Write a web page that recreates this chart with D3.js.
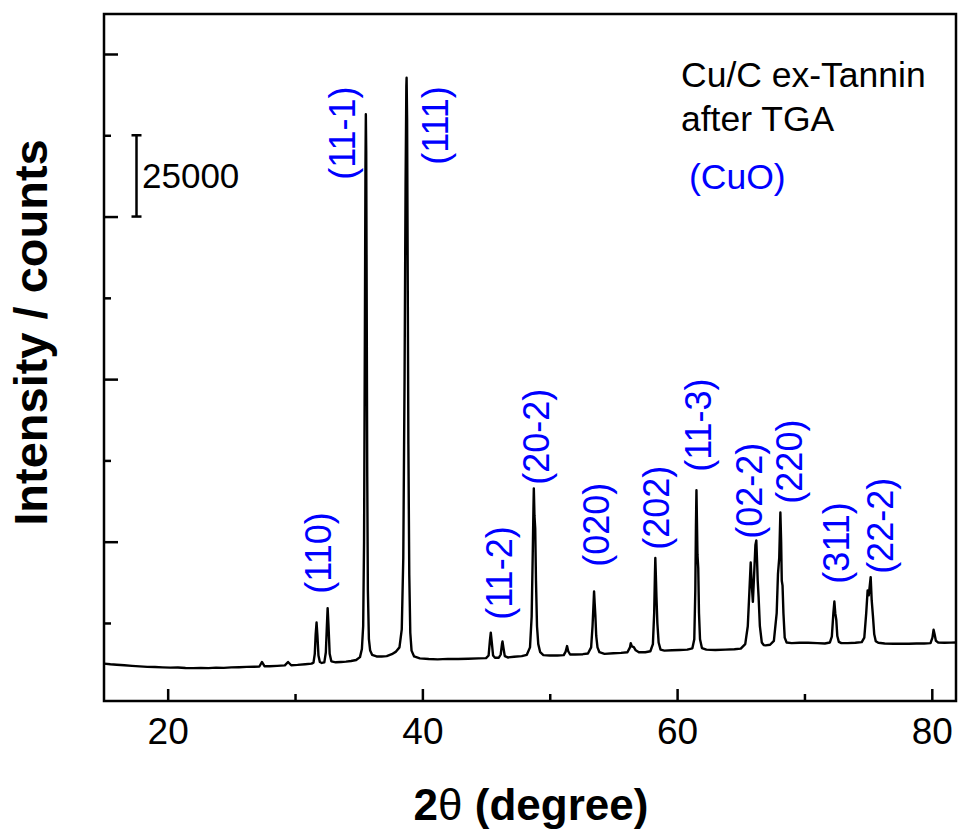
<!DOCTYPE html>
<html>
<head>
<meta charset="utf-8">
<script src="https://cdn.jsdelivr.net/npm/d3@7"></script>
<style>
  html, body { margin: 0; padding: 0; background: #fff; }
  svg { display: block; font-family: "Liberation Sans", Arial, Helvetica, sans-serif; }
</style>
</head>
<body>
<svg id="chart" width="958" height="839"></svg>
<script>
// ---- data ----
const twoTheta = [
  15.0, 15.5, 16.0, 16.6, 17.2, 17.8, 18.4, 19.0, 19.6, 20.2, 20.8, 21.4, 22.0, 22.6, 23.2, 23.8,
  24.4, 25.0, 25.6, 26.2, 26.8, 27.2, 27.4, 27.6, 28.0, 28.6, 29.2, 29.45, 29.7, 30.2, 30.8, 31.3,
  31.45, 31.55, 31.62, 31.69, 31.76, 31.84, 31.95, 32.1, 32.3, 32.42, 32.5, 32.56, 32.63, 32.72, 32.85,
  33.2, 33.6, 34.0, 34.4, 34.8, 35.1, 35.25, 35.35, 35.42, 35.48, 35.53, 35.56, 35.59, 35.63, 35.67,
  35.72, 35.8, 35.9, 36.05, 36.4, 36.8, 37.2, 37.6, 37.9, 38.2, 38.38, 38.5, 38.6, 38.68, 38.74,
  38.76, 38.8, 38.85, 38.9, 38.97, 39.05, 39.15, 39.35, 39.8, 40.5, 41.2, 42.0, 42.8, 43.6, 44.4,
  45.0, 45.2, 45.3, 45.37, 45.45, 45.55, 45.7, 46.0, 46.15, 46.25, 46.29, 46.36, 46.47, 46.7, 47.2,
  47.8, 48.2, 48.45, 48.58, 48.66, 48.72, 48.75, 48.8, 48.86, 48.92, 49.0, 49.1, 49.25, 49.5, 50.0,
  50.6, 51.1, 51.25, 51.36, 51.45, 51.6, 52.0, 52.6, 53.0, 53.25, 53.36, 53.44, 53.48, 53.53, 53.58,
  53.65, 53.75, 53.9, 54.3, 55.0, 55.6, 56.1, 56.3, 56.36, 56.45, 56.6, 56.75, 57.0, 57.5, 57.9,
  58.1, 58.2, 58.26, 58.29, 58.33, 58.38, 58.45, 58.55, 58.7, 59.0, 59.6, 60.2, 60.8, 61.2, 61.35,
  61.43, 61.48, 61.52, 61.56, 61.6, 61.66, 61.72, 61.8, 61.95, 62.3, 63.0, 63.8, 64.5, 65.0, 65.35,
  65.55, 65.68, 65.78, 65.86, 65.95, 66.05, 66.15, 66.22, 66.28, 66.33, 66.4, 66.5, 66.65, 66.8, 66.95,
  67.3, 67.6, 67.82, 67.92, 68.02, 68.11, 68.17, 68.22, 68.28, 68.35, 68.45, 68.6, 69.0, 69.6, 70.3,
  71.0, 71.6, 72.0, 72.15, 72.27, 72.35, 72.42, 72.5, 72.58, 72.7, 72.9, 73.4, 74.0, 74.5, 74.7,
  74.85, 74.96, 75.05, 75.2, 75.28, 75.38, 75.48, 75.6, 75.8, 76.3, 77.0, 77.6, 78.2, 78.8, 79.4,
  79.9, 80.05, 80.14, 80.22, 80.32, 80.5, 81.0, 81.5, 81.9
];
const counts = [
  12500, 12300, 12150, 12000, 11800, 11650, 11500, 11450, 11350, 11250, 11300, 11150, 11100, 11200, 11100, 11250,
  11200, 11350, 11400, 11500, 11550, 11600, 13000, 11700, 11700, 11800, 11950, 13000, 12000, 12100, 12300, 12500,
  12800, 15500, 21500, 25150, 21000, 15000, 13000, 12700, 12900, 16000, 24000, 29580, 24000, 15500, 13200,
  12900, 13000, 13100, 13300, 13600, 14500, 17000, 24000, 50000, 110000, 165000, 181500, 170000, 120000, 70000,
  35000, 20000, 16500, 15200, 14700, 14700, 14800, 15400, 16100, 17500, 23000, 45000, 100000, 160000, 190000,
  192700, 180000, 130000, 80000, 40000, 22000, 16500, 14700, 14100, 13900, 13800, 13950, 13900, 14000, 14100,
  14200, 15000, 19500, 22000, 19000, 15000, 14300, 14300, 15300, 18500, 19300, 17500, 14800, 14400, 14600,
  14800, 15200, 17500, 27000, 45000, 60000, 66400, 58000, 54000, 38000, 24000, 18500, 16000, 15100, 15000,
  15000, 15100, 16200, 17900, 16300, 15300, 15300, 15400, 15600, 17500, 24000, 31000, 34700, 31000, 27500,
  21000, 17500, 16000, 15500, 15700, 15800, 16000, 17500, 18800, 17800, 17600, 16600, 16000, 16000, 16300,
  18500, 28000, 40000, 45000, 40000, 33000, 25000, 19000, 16800, 16500, 16600, 16700, 16800, 17200, 20000,
  35000, 55000, 65800, 56000, 46000, 42000, 28000, 20000, 17300, 16800, 16700, 16800, 16900, 17100, 18500,
  24000, 35000, 43600, 37000, 31500, 40000, 49000, 50400, 44000, 38000, 33000, 24000, 19000, 18200, 18100,
  18300, 19500, 28000, 40000, 45000, 59000, 50000, 38000, 36500, 28000, 20500, 19000, 18800, 18900, 18900,
  18800, 18700, 19000, 20800, 28000, 31600, 28000, 26000, 21000, 19200, 18800, 18800, 18900, 19100, 20500,
  28000, 35000, 33500, 39100, 32000, 27000, 21500, 19400, 18900, 18700, 18600, 18600, 18600, 18700, 18700,
  18800, 20500, 22900, 21500, 19500, 19000, 18900, 18950, 19000
];

// Miller-index labels (CuO) and where their text starts (2θ, counts)
const peakLabels  = ["(110)", "(11-1)", "(111)", "(11-2)", "(20-2)", "(020)", "(202)", "(11-3)", "(02-2)", "(220)", "(311)", "(22-2)"];
const labelTheta  = [31.80, 33.72, 41.02, 46.08, 48.95, 53.65, 58.40, 61.70, 65.70, 68.84, 72.53, 75.98];
const labelCounts = [34000, 161300, 165900, 26000, 67500, 42300, 47500, 71500, 50900, 61700, 37100, 40100];

const xMajorTicks = [20, 40, 60, 80];
const xMinorTicks = [30, 50, 70];
const yMajorTicks = [50000, 100000, 150000, 200000];
const yMinorTicks = [25000, 75000, 125000, 175000];
const scaleBar = [150000, 175000];   // 25000 counts
const sampleText = ["Cu/C ex-Tannin", "after TGA"];
const phaseText = "(CuO)";

// ---- layout ----
const svg = d3.select("#chart");
const L = 104, R = 956, T = 14, B = 701;
const x = d3.scaleLinear().domain([15, 81.9]).range([L, R]);
const y = d3.scaleLinear().domain([1000, 212300]).range([B, T]);
const blue = "#0000ff";

// pattern line
const pts = twoTheta.map((t, i) => [t, counts[i]]);
svg.append("path")
  .datum(pts)
  .attr("fill", "none")
  .attr("stroke", "#000")
  .attr("stroke-width", 2.4)
  .attr("stroke-linejoin", "round")
  .attr("d", d3.line().x(d => x(d[0])).y(d => y(d[1])));

// x axis (ticks pointing inward)
const gx = svg.append("g").attr("transform", `translate(0,${B})`);
gx.call(d3.axisBottom(x).tickValues(xMajorTicks).tickSize(-12).tickPadding(17).tickFormat(d3.format("d")));
gx.append("g").call(d3.axisBottom(x).tickValues(xMinorTicks).tickSize(-7).tickFormat(""));
gx.selectAll(".domain").remove();
gx.selectAll("line").attr("stroke", "#000").attr("stroke-width", 2.5);
gx.selectAll("text").attr("font-size", 37).attr("fill", "#000")
  .attr("font-family", "Liberation Sans, Arial, sans-serif");

// y axis (ticks pointing inward, no labels)
const gy = svg.append("g").attr("transform", `translate(${L},0)`);
gy.call(d3.axisLeft(y).tickValues(yMajorTicks).tickSize(-14).tickFormat(""));
gy.append("g").call(d3.axisLeft(y).tickValues(yMinorTicks).tickSize(-7).tickFormat(""));
gy.selectAll(".domain").remove();
gy.selectAll("line").attr("stroke", "#000").attr("stroke-width", 2.5);

// frame
svg.append("rect")
  .attr("x", L).attr("y", T).attr("width", R - L).attr("height", B - T)
  .attr("fill", "none").attr("stroke", "#000").attr("stroke-width", 2.5);

// scale bar
const sbx = 136.5;
const sb = svg.append("g").attr("stroke", "#000").attr("stroke-width", 2.5);
sb.append("line").attr("x1", sbx).attr("x2", sbx).attr("y1", y(scaleBar[1])).attr("y2", y(scaleBar[0]));
scaleBar.forEach(v => sb.append("line").attr("x1", sbx - 5).attr("x2", sbx + 5).attr("y1", y(v)).attr("y2", y(v)));
svg.append("text").attr("x", 142).attr("y", (y(scaleBar[0]) + y(scaleBar[1])) / 2 + 12)
  .attr("font-size", 35).attr("fill", "#000").text(scaleBar[1] - scaleBar[0]);

// peak labels
svg.append("g").selectAll("text").data(peakLabels).join("text")
  .attr("transform", (d, i) => `translate(${x(labelTheta[i])},${y(labelCounts[i])}) rotate(-90)`)
  .attr("dy", "0.35em")
  .attr("font-size", 36)
  .attr("fill", blue)
  .text(d => d);

// annotation
svg.append("g").selectAll("text").data(sampleText).join("text")
  .attr("x", 681).attr("y", (d, i) => 87 + i * 44)
  .attr("font-size", 35.5).attr("fill", "#000").text(d => d);
svg.append("text").attr("x", 689).attr("y", 189)
  .attr("font-size", 35.5).attr("fill", blue).text(phaseText);

// axis titles
const xt = svg.append("text").attr("x", (L + R) / 2 + 1).attr("y", 820)
  .attr("text-anchor", "middle").attr("font-size", 44).attr("font-weight", "bold").attr("fill", "#000");
xt.append("tspan").text("2");
xt.append("tspan").attr("font-weight", "normal").text("θ");
xt.append("tspan").text(" (degree)");

svg.append("text")
  .attr("transform", `translate(47,${(T + B) / 2 - 25}) rotate(-90)`)
  .attr("text-anchor", "middle").attr("font-size", 47).attr("font-weight", "bold").attr("fill", "#000")
  .text("Intensity / counts");
</script>
</body>
</html>
